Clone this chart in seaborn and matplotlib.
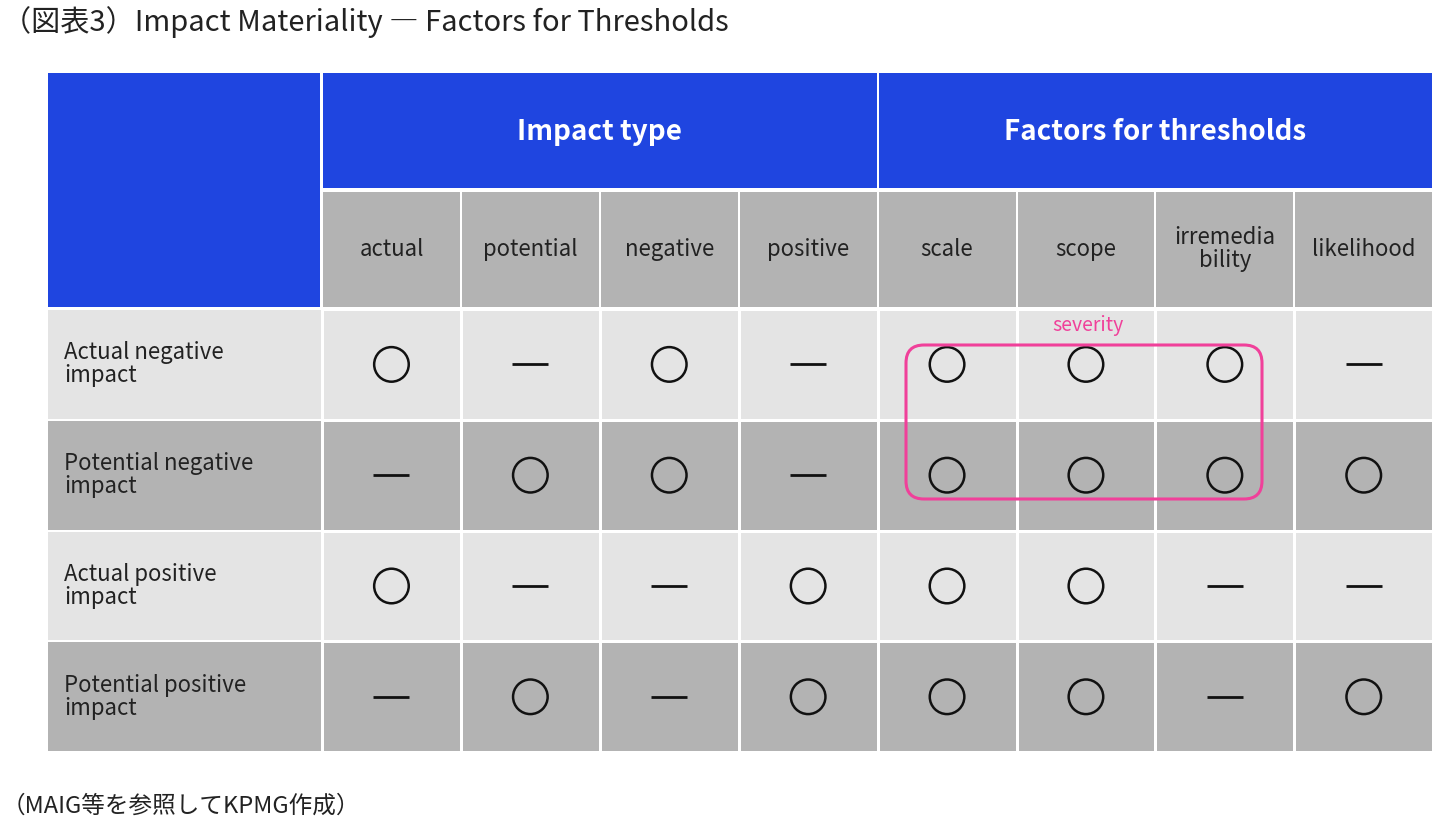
import numpy as np
import pandas as pd
import matplotlib.pyplot as plt
import seaborn as sns
from matplotlib.patches import Rectangle, FancyBboxPatch

sns.set_theme(style="white")
plt.rcParams['font.family'] = ['Noto Sans CJK JP', 'DejaVu Sans']

# data
groups = ["Impact type", "Factors for thresholds"]
columns = ["actual", "potential", "negative", "positive",
           "scale", "scope", "irremedia\nbility", "likelihood"]
rows = ["Actual negative\nimpact", "Potential negative\nimpact",
        "Actual positive\nimpact", "Potential positive\nimpact"]
# 1 = ○, 0 = —
marks = [
    [1, 0, 1, 0, 1, 1, 1, 0],
    [0, 1, 1, 0, 1, 1, 1, 1],
    [1, 0, 0, 1, 1, 1, 0, 0],
    [0, 1, 0, 1, 1, 1, 0, 1],
]

blue = "#1f45e0"
light = "#e4e4e4"
dark = "#b3b3b3"
pink = "#f0409a"

W, H = 1440, 839
fig = plt.figure(figsize=(W / 100, H / 100), dpi=100)
ax = fig.add_axes([0, 0, 1, 1])
ax.set_xlim(0, W)
ax.set_ylim(H, 0)
ax.axis("off")
ax.set_zorder(3)

x0, xl, cw = 48, 322, 138.9
xs = [xl + i * cw for i in range(len(columns) + 1)]
y_h1, y_h2, y_b = 73, 190, 309
rh = 110.8

# top-left blue block
ax.add_patch(Rectangle((x0, y_h1), xl - x0 - 2, y_b - y_h1 - 2, color=blue, lw=0))
# group headers
for g, name in enumerate(groups):
    a, b = xs[g * 4], xs[g * 4 + 4]
    ax.add_patch(Rectangle((a + 1, y_h1), b - a - 2, y_h2 - y_h1 - 2, color=blue, lw=0))
    ax.text((a + b) / 2, (y_h1 + y_h2) / 2, name, color="white", fontsize=20,
            fontweight="bold", ha="center", va="center")
# column headers
for j, c in enumerate(columns):
    ax.add_patch(Rectangle((xs[j] + 1, y_h2 + 2), cw - 2, y_b - y_h2 - 4, color=dark, lw=0))
    ax.text(xs[j] + cw / 2, (y_h2 + y_b) / 2, c, fontsize=16, ha="center",
            va="center", color="#222222", linespacing=1.0)
# row labels
for i, r in enumerate(rows):
    yy = y_b + i * rh
    ax.add_patch(Rectangle((x0, yy + 1), xl - x0 - 1, rh - 2,
                           color=light if i % 2 == 0 else dark, lw=0))
    ax.text(x0 + 16, yy + rh / 2, r, fontsize=16, ha="left", va="center",
            color="#222222", linespacing=1.0)

# body via heatmap
body = fig.add_axes([xl / W, 1 - (y_b + 4 * rh) / H, (xs[-1] - xl) / W, 4 * rh / H])
body.set_zorder(1)
shade = pd.DataFrame([[i % 2] * len(columns) for i in range(len(rows))])
sns.heatmap(shade, ax=body, cmap=[light, dark], cbar=False, linewidths=2,
            linecolor="white", xticklabels=False, yticklabels=False)
m = np.array(marks)
ii, jj = np.where(m == 1)
body.scatter(jj + 0.5, ii + 0.5, s=620, facecolors="none", edgecolors="#111111", linewidths=1.8)
ii, jj = np.where(m == 0)
body.scatter(jj + 0.5, ii + 0.5, s=650, marker="_", color="#111111", linewidths=2)

# severity box
ax.add_patch(FancyBboxPatch((906, 345), 356, 154, boxstyle="round,pad=0,rounding_size=18",
                            fill=False, edgecolor=pink, lw=2.2, zorder=5))
ax.text(1088, 326, "severity", color=pink, fontsize=14, ha="center", va="center")

ax.text(2, 22, "（図表3）Impact Materiality ― Factors for Thresholds", fontsize=21,
        ha="left", va="center", color="#222222")
ax.text(2, 806, "（MAIG等を参照してKPMG作成）", fontsize=17, ha="left", va="center",
        color="#222222")

fig.savefig("out.png", dpi=100)
